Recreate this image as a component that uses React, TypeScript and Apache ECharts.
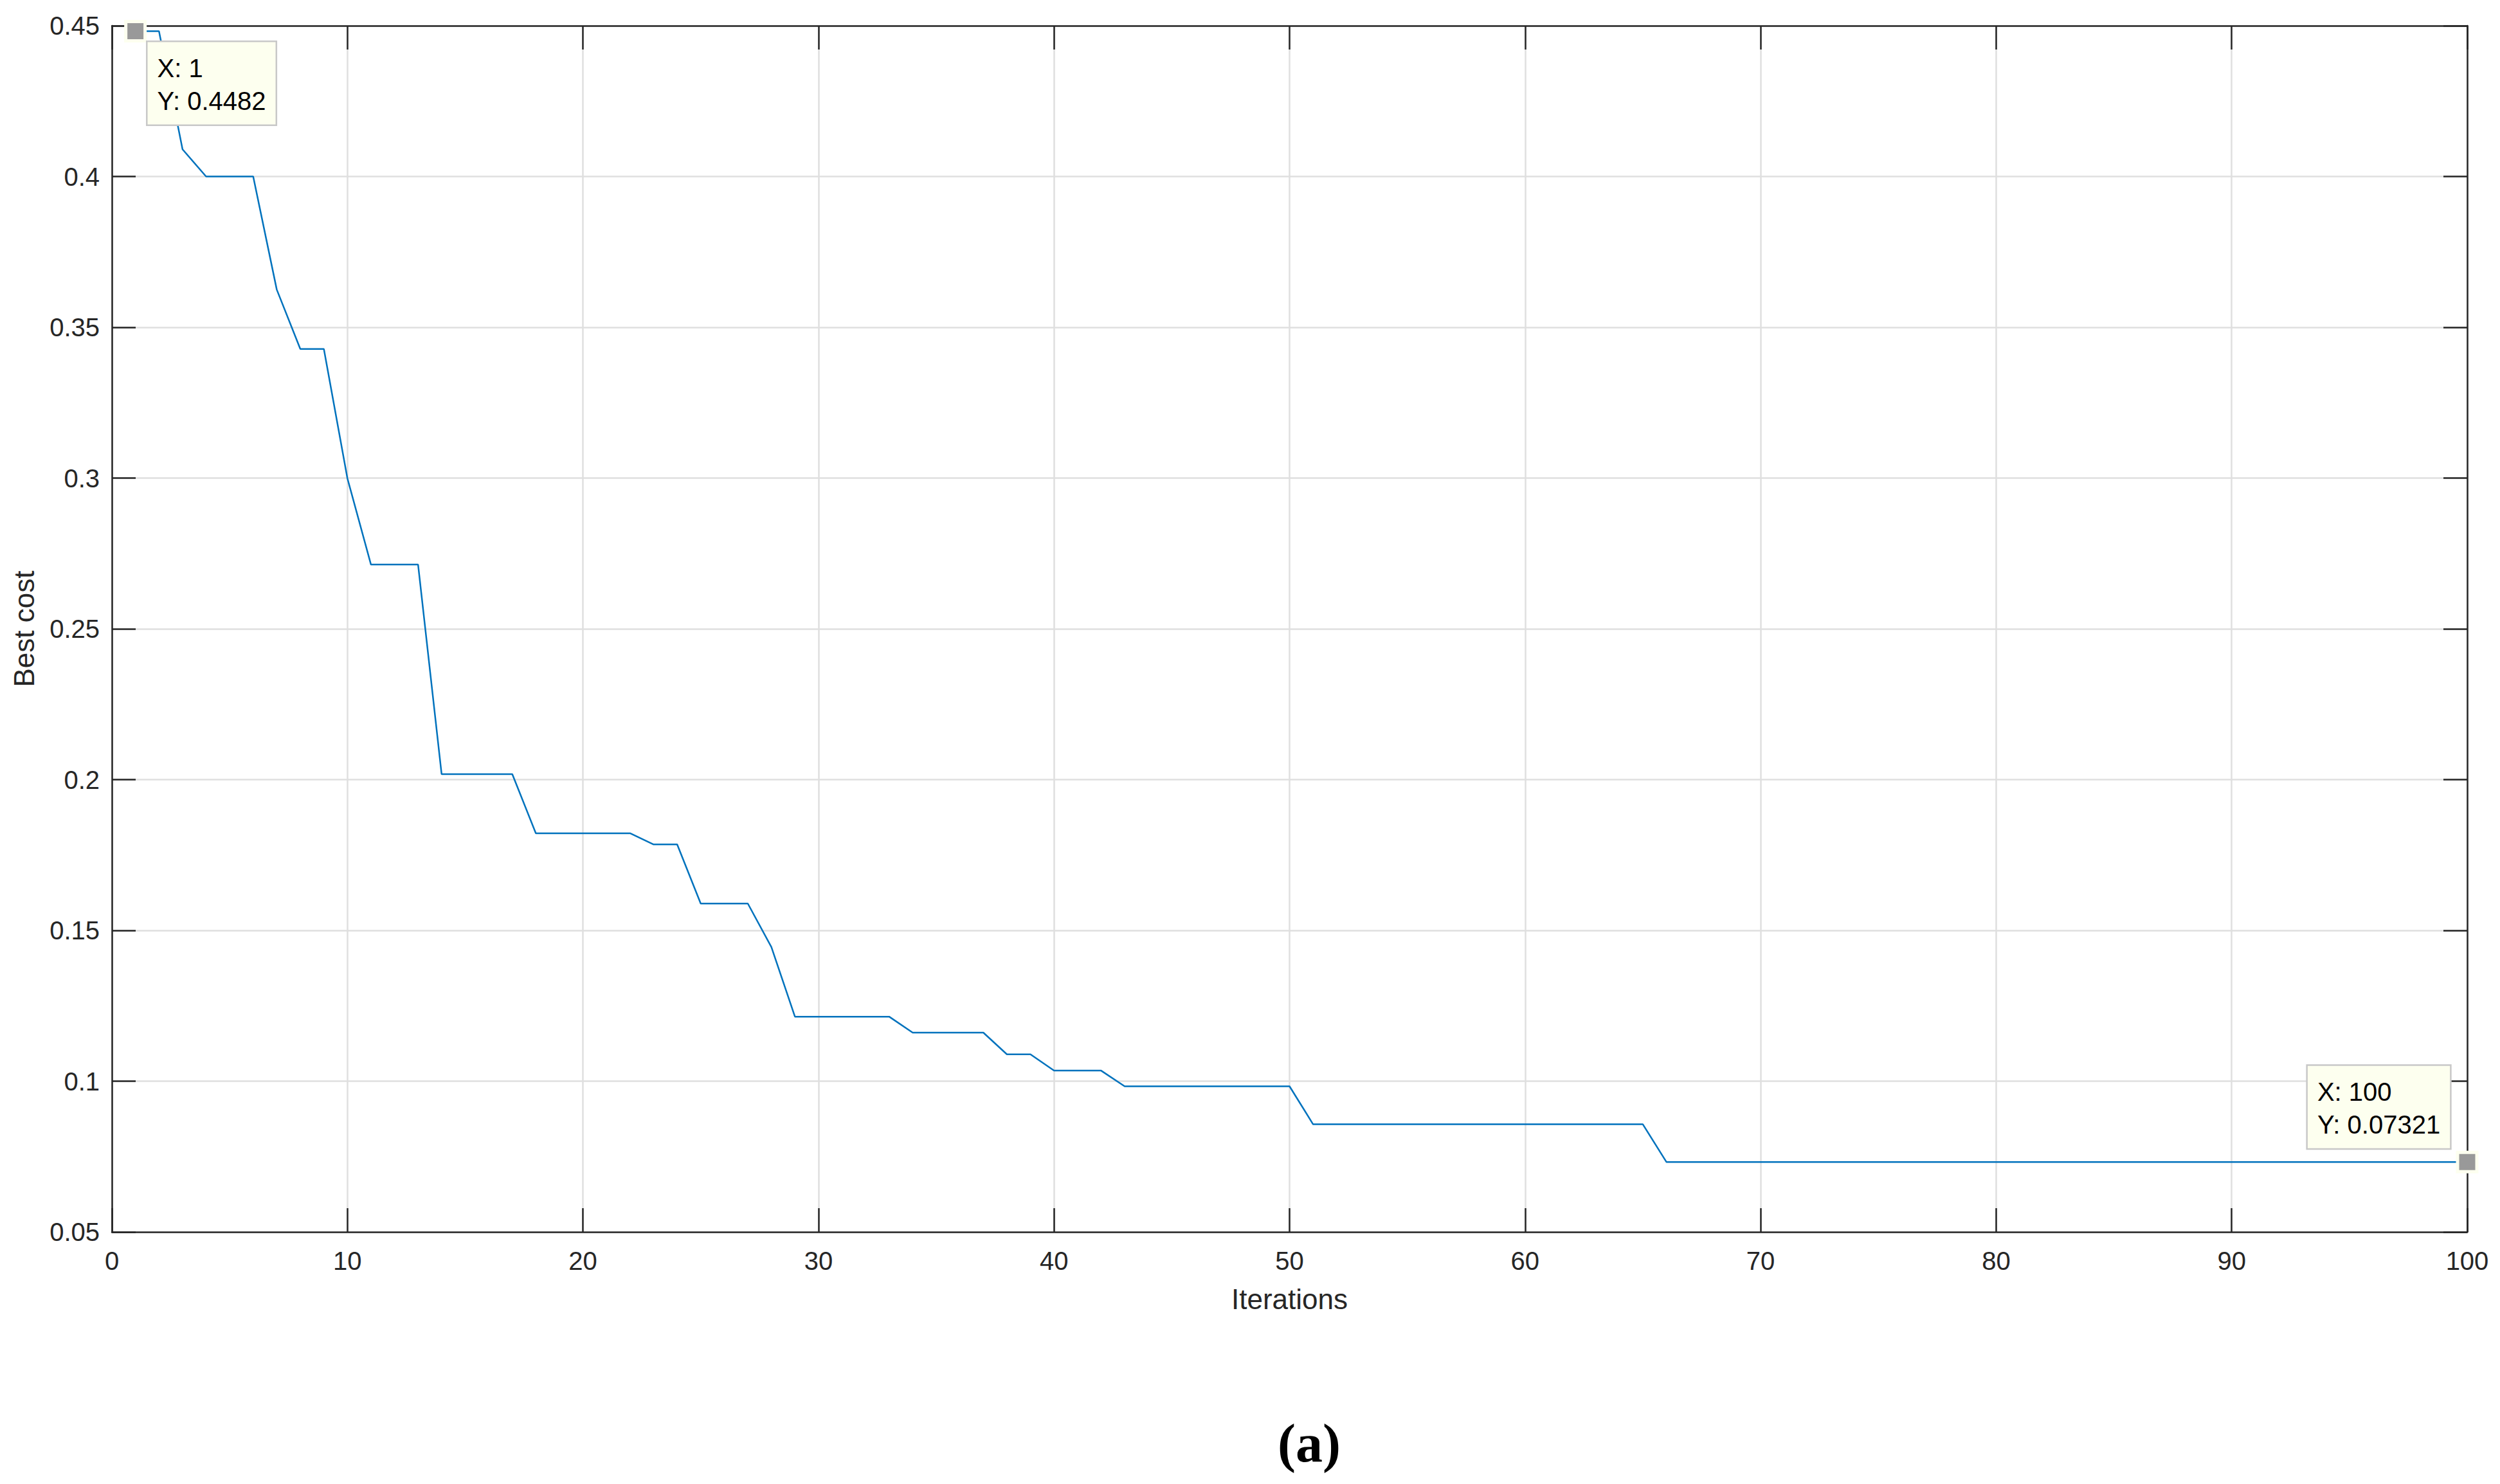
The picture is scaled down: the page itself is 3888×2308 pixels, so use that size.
import React, { useEffect, useRef } from "react";
import * as echarts from "echarts";

// ---- data ----
const xTicks = [0, 10, 20, 30, 40, 50, 60, 70, 80, 90, 100];
const bestCost = [
  0.4482, 0.4482, 0.409, 0.4, 0.4, 0.4, 0.3625, 0.3428, 0.3428, 0.2999,
  0.2713, 0.2713, 0.2713, 0.2018, 0.2018, 0.2018, 0.2018, 0.1822, 0.1822, 0.1822,
  0.1822, 0.1822, 0.1785, 0.1785, 0.1589, 0.1589, 0.1589, 0.1445, 0.1214, 0.1214,
  0.1214, 0.1214, 0.1214, 0.1161, 0.1161, 0.1161, 0.1161, 0.1089, 0.1089, 0.1035,
  0.1035, 0.1035, 0.0983, 0.0983, 0.0983, 0.0983, 0.0983, 0.0983, 0.0983, 0.0983,
  0.0857, 0.0857, 0.0857, 0.0857, 0.0857, 0.0857, 0.0857, 0.0857, 0.0857, 0.0857,
  0.0857, 0.0857, 0.0857, 0.0857, 0.0857, 0.07321, 0.07321, 0.07321, 0.07321, 0.07321,
  0.07321, 0.07321, 0.07321, 0.07321, 0.07321, 0.07321, 0.07321, 0.07321, 0.07321, 0.07321,
  0.07321, 0.07321, 0.07321, 0.07321, 0.07321, 0.07321, 0.07321, 0.07321, 0.07321, 0.07321,
  0.07321, 0.07321, 0.07321, 0.07321, 0.07321, 0.07321, 0.07321, 0.07321, 0.07321, 0.07321,
];
const dataTipIterations = [1, 100];
const xName = "Iterations";
const yName = "Best cost";
const caption = "(a)";

const FONT = '"Liberation Sans", Arial, Helvetica, sans-serif';
const AX = "#262626";

export default function App() {
  const ref = useRef<HTMLDivElement>(null);

  useEffect(() => {
    if (!ref.current) return;
    const chart = echarts.init(ref.current, null, { renderer: "svg" });

    const points = bestCost.map((v, i) => [i + 1, v]);

    const axisLine = { show: true, onZero: false, lineStyle: { color: AX, width: 2.5 } };
    const axisTick = { show: true, inside: true, length: 37, lineStyle: { color: AX, width: 2.5 } };
    const splitLine = { show: true, lineStyle: { color: "#dfdfdf", width: 2.5 } };

    const tipLabelBase = {
      show: true,
      backgroundColor: "#FDFFEF",
      borderColor: "#C8C8C8",
      borderWidth: 2.5,
      padding: [15, 15, 11, 15],
      fontSize: 40,
      lineHeight: 51,
      color: "#000000",
      fontFamily: FONT,
      align: "left",
    };
    const tipPositions = [
      { position: [36.4, 34.6], verticalAlign: "top" },
      { position: [-230.6, -4], verticalAlign: "bottom" },
    ];

    const markData = dataTipIterations.map((it, k) => {
      const y = bestCost[it - 1];
      return {
        coord: [it, y],
        label: { ...tipLabelBase, ...tipPositions[k], formatter: `X: ${it}\nY: ${y}` },
      };
    });

    chart.setOption({
      animation: false,
      backgroundColor: "#ffffff",
      grid: { left: 174, right: 51, top: 40, bottom: 392, containLabel: false },
      xAxis: [
        {
          type: "value",
          position: "bottom",
          min: xTicks[0],
          max: xTicks[xTicks.length - 1],
          interval: 10,
          name: xName,
          nameLocation: "middle",
          nameGap: 82,
          nameTextStyle: { fontSize: 44, color: AX, fontFamily: FONT },
          axisLine,
          axisTick,
          axisLabel: { fontSize: 40, color: AX, margin: 25, fontFamily: FONT },
          splitLine,
        },
        {
          type: "value",
          position: "top",
          min: xTicks[0],
          max: xTicks[xTicks.length - 1],
          interval: 10,
          axisLine,
          axisTick,
          axisLabel: { show: false },
          splitLine: { show: false },
        },
      ],
      yAxis: [
        {
          type: "value",
          position: "left",
          min: 0.05,
          max: 0.45,
          interval: 0.05,
          name: yName,
          nameLocation: "middle",
          nameGap: 115,
          nameTextStyle: { fontSize: 44, color: AX, fontFamily: FONT },
          axisLine,
          axisTick,
          axisLabel: { fontSize: 40, color: AX, margin: 19, fontFamily: FONT },
          splitLine,
        },
        {
          type: "value",
          position: "right",
          min: 0.05,
          max: 0.45,
          interval: 0.05,
          axisLine,
          axisTick,
          axisLabel: { show: false },
          splitLine: { show: false },
        },
      ],
      series: [
        {
          type: "line",
          xAxisIndex: 0,
          yAxisIndex: 0,
          data: points,
          showSymbol: false,
          lineStyle: { color: "#0072BD", width: 2.5 },
          itemStyle: { color: "#0072BD" },
          markPoint: {
            symbol: "rect",
            symbolSize: 30,
            itemStyle: { color: "#999999", borderColor: "#FDFFEF", borderWidth: 5 },
            data: markData,
          },
        },
      ],
      graphic: [
        {
          type: "text",
          x: 2036,
          y: 2244,
          style: {
            text: caption,
            fontSize: 84,
            fontWeight: "bold",
            fontFamily: '"Liberation Serif", "Times New Roman", serif',
            fill: "#000000",
            align: "center",
            verticalAlign: "middle",
            textAlign: "center",
            textVerticalAlign: "middle",
          },
        },
      ],
    });

    return () => chart.dispose();
  }, []);

  return (
    <div
      ref={ref}
      style={{ position: "fixed", left: 0, top: 0, width: "3888px", height: "2308px", background: "#fff" }}
    />
  );
}
